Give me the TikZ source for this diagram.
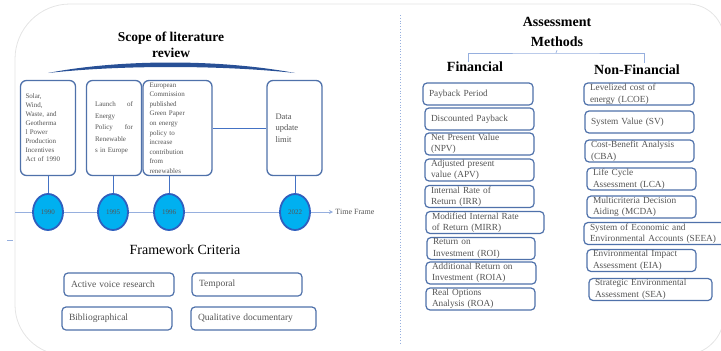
\documentclass[tikz,border=0pt]{standalone}
\usepackage{fontspec}
\setmainfont{Liberation Serif}
\usetikzlibrary{shapes.geometric,arrows.meta}

\definecolor{boxblue}{RGB}{79,113,170}
\definecolor{yearfill}{RGB}{0,176,240}
\definecolor{yeardraw}{RGB}{47,95,190}
\definecolor{linkblue}{RGB}{68,114,196}
\definecolor{tlblue}{RGB}{150,175,222}
\definecolor{panelgray}{RGB}{228,228,228}
\definecolor{txtgray}{RGB}{85,85,85}
\definecolor{bracecol}{RGB}{40,80,150}

\tikzset{
  tlbox/.style={draw=boxblue,line width=1.3pt,rounded corners=6pt,fill=white,
    minimum width=55pt,minimum height=95pt,text width=#1,align=left,
    inner sep=0pt,text=txtgray,font=\fontsize{7}{9}\selectfont},
  year/.style={ellipse,draw=yeardraw,fill=yearfill,line width=1.8pt,
    minimum width=30pt,minimum height=36pt,inner sep=0pt,
    text=txtgray,font=\fontsize{7}{8}\selectfont},
  critbox/.style={draw=boxblue,line width=1.2pt,rounded corners=4pt,fill=white,
    minimum width=#1,minimum height=23pt,text width=#1-14pt,align=left,
    inner xsep=7pt,inner ysep=0pt,text=txtgray,font=\fontsize{9.5}{11}\selectfont},
  mbox/.style={draw=boxblue,line width=1.2pt,rounded corners=4pt,fill=white,
    minimum width=#1,minimum height=22pt,text width=#1-12pt,align=left,
    inner xsep=6pt,inner ysep=0pt,text=txtgray,font=\fontsize{9.3}{11.5}\selectfont},
  link/.style={draw=linkblue,line width=1pt},
  tline/.style={draw=tlblue,line width=0.9pt},
  tree/.style={draw=tlblue,line width=0.7pt},
  heading/.style={font=\fontsize{14}{17}\selectfont\bfseries,align=center}
}

\begin{document}
\begin{tikzpicture}[x=1pt,y=-1pt]
  \useasboundingbox (0,0) rectangle (721,351);

  % outer panel and separator
  \draw[panelgray,line width=0.8pt]
    (724,40) arc[start angle=0,end angle=-90,radius=36] -- (70,4)
    arc[start angle=-90,end angle=-180,radius=55] -- (15,305)
    arc[start angle=180,end angle=90,radius=50] -- (684,355)
    arc[start angle=90,end angle=0,radius=40];
  \draw[tlblue,dotted,line width=0.8pt] (400,15) -- (400,343);
  \draw[tline] (7,240) -- (13,240);

  % scope of literature review
  \node[heading,font=\fontsize{13.5}{16}\selectfont\bfseries] (scope) at (171,45) {Scope of literature\\review};
  \fill[bracecol] (48,73) .. controls (120,59) and (220,59) .. (295,73)
                          .. controls (220,65) and (120,65) .. (48,73);

  \node[tlbox=45pt] (b1990) at (48,128) {Solar,\\ Wind,\\ Waste, and\\ Geotherma\\ l Power\\ Production\\ Incentives\\ Act of 1990};
  \node[tlbox=38pt,font=\fontsize{7}{11.5}\selectfont] (b1995) at (114,128) {Launch \hfill of\\ Energy\\ Policy \hfill for\\ Renewable\\ s in Europe};
  \node[tlbox=56pt,minimum width=69pt,font=\fontsize{7}{9.6}\selectfont] (b1996) at (177.5,128) {European\\ Commission\\ published\\ Green Paper\\ on energy\\ policy to\\ increase\\ contribution\\ from\\ renewables};
  \node[tlbox=38pt,font=\fontsize{8.5}{11.5}\selectfont] (b2022) at (294.5,128) {Data\\ update\\ limit};

  % time line
  \coordinate (tl0) at (15,212);
  \coordinate (tlend) at (333,212);
  \draw[tline,-{Stealth[length=4pt,width=4pt]}] (tl0) -- (tlend)
    node[right,inner sep=2pt,text=txtgray,font=\fontsize{8}{9}\selectfont] (tf) {Time Frame};

  \node[year] (y1990) at (48,212) {1990};
  \node[year] (y1995) at (113,212) {1995};
  \node[year] (y1996) at (169,212) {1996};
  \node[year] (y2022) at (295,212) {2022};

  \draw[link] (y1990.north) -- (y1990.north |- b1990.south);
  \draw[link] (y1995.north) -- (y1995.north |- b1995.south);
  \draw[link] (y1996.north) -- (y1996.north |- b1996.south);
  \draw[link] (y2022.north) -- (y2022.north |- b2022.south);
  \draw[link] (b1996.east) -- (b2022.west);

  % framework criteria
  \node[font=\fontsize{14}{16}\selectfont] (crit) at (185,250) {Framework Criteria};
  \node[critbox=110pt] (active) at (119,284.5) {Active voice research};
  \node[critbox=110pt] (temp) at (247,284.5) {Temporal};
  \node[critbox=110pt] (biblio) at (117,318.5) {Bibliographical};
  \node[critbox=125pt] (qual) at (253.5,318.5) {Qualitative documentary};

  % assessment methods
  \node[heading,font=\fontsize{14}{20}\selectfont\bfseries] (meth) at (557,32) {Assessment\\Methods};
  \node[heading] (fin) at (475,67) {Financial};
  \node[heading] (nonfin) at (637,70) {Non-Financial};
  \coordinate (tj) at (556,53);
  \coordinate (legL) at (468,62);
  \coordinate (legR) at (644,63);
  \draw[tree] (meth.south) -- (tj);
  \draw[tree] (legL) |- (tj) -| (legR);

  \node[mbox=110pt] (pp) at (478,94) {Payback Period};
  \node[mbox=109pt] (dp) at (479.5,119) {Discounted Payback};
  \node[mbox=109pt] (npv) at (479.5,144) {Net Present Value\\(NPV)};
  \node[mbox=109pt] (apv) at (479.5,170) {Adjusted present\\value (APV)};
  \node[mbox=109pt] (irr) at (479.5,196.5) {Internal Rate of\\Return (IRR)};
  \node[mbox=118pt] (mirr) at (485,222.5) {Modified Internal Rate\\of Return (MIRR)};
  \node[mbox=108pt] (roi) at (481,248.5) {Return on\\Investment (ROI)};
  \node[mbox=110pt] (roia) at (481,273) {Additional Return on\\Investment (ROIA)};
  \node[mbox=109pt] (roa) at (480.5,299) {Real Options\\Analysis (ROA)};

  \node[mbox=110pt] (lcoe) at (639,94) {Levelized cost of\\energy (LCOE)};
  \node[mbox=109pt] (sv) at (639.5,122) {System Value (SV)};
  \node[mbox=109pt] (cba) at (639.5,151) {Cost-Benefit Analysis\\(CBA)};
  \node[mbox=109pt] (lca) at (641.5,179) {Life Cycle\\Assessment (LCA)};
  \node[mbox=109pt] (mcda) at (641.5,207) {Multicriteria Decision\\Aiding (MCDA)};
  \node[mbox=142pt] (seea) at (655,233.5) {System of Economic and\\Environmental Accounts (SEEA)};
  \node[mbox=109pt] (eia) at (641.5,260.5) {Environmental Impact\\Assessment (EIA)};
  \node[mbox=123pt] (sea) at (650.5,289.5) {Strategic Environmental\\Assessment (SEA)};
\end{tikzpicture}
\end{document}
